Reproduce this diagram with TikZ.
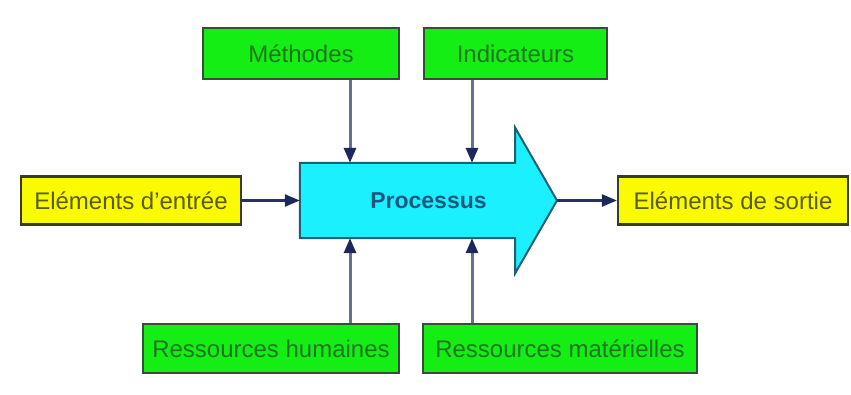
\documentclass[tikz,border=0pt]{standalone}
\usepackage{fontspec}
\setmainfont{Liberation Sans}
\usetikzlibrary{arrows.meta}

\definecolor{boxgreen}{RGB}{20,238,20}
\definecolor{boxgreenline}{RGB}{52,78,56}
\definecolor{textgreen}{RGB}{30,118,30}
\definecolor{boxyellow}{RGB}{250,250,0}
\definecolor{boxyellowline}{RGB}{58,58,40}
\definecolor{textolive}{RGB}{92,92,16}
\definecolor{proccyan}{RGB}{26,240,255}
\definecolor{proccyanline}{RGB}{30,95,115}
\definecolor{proctext}{RGB}{28,88,128}
\definecolor{navytip}{RGB}{28,40,92}
\definecolor{vline}{RGB}{104,112,146}
\definecolor{hline}{RGB}{40,50,92}

\tikzset{
  every node/.style={font=\fontsize{24}{28}\selectfont, inner sep=0pt},
  resbox/.style={draw=boxgreenline, fill=boxgreen, line width=2.2pt,
                 text=textgreen, minimum height=49pt},
  iobox/.style={draw=boxyellowline, fill=boxyellow, line width=2.2pt,
                text=textolive, minimum height=48pt},
  vconn/.style={draw=vline, line width=3pt,
                -{Triangle[length=15pt,width=12pt,color=navytip]}},
  hconn/.style={draw=hline, line width=2.4pt,
                -{Triangle[length=15pt,width=12pt,color=navytip]}},
}

\begin{document}
\begin{tikzpicture}[x=1pt,y=1pt]
  \fill[white] (0,0) rectangle (851,394);
  \useasboundingbox (0,0) rectangle (851,394);

  % columns where the control and resource arrows meet the process
  \coordinate (xa) at (350,0);
  \coordinate (xb) at (472,0);

  % process: body of the big arrow, its tip and head corners
  \node[minimum width=215pt, minimum height=75pt] (proc) at (407.5,193.5) {};
  \coordinate (tip) at (557,193.5);
  \fill[proccyan, draw=proccyanline, line width=2pt, line join=miter]
    (proc.south west) -- (proc.north west) -- (proc.north east)
    -- ([yshift=35pt]proc.north east) -- (tip)
    -- ([yshift=-35pt]proc.south east) -- (proc.south east) -- cycle;
  \node[text=proctext, font=\fontsize{23}{27}\selectfont\bfseries] (proclabel)
    at ([xshift=21pt]proc.center) {Processus};

  % boxes
  \node[resbox, minimum width=196pt, minimum height=51pt] (meth) at (301,340.5) {Méthodes};
  \node[resbox, minimum width=183pt, minimum height=51pt] (ind) at (515.5,340.5) {Indicateurs};
  \node[resbox, minimum width=256pt] (hum) at (271,45.5) {Ressources humaines};
  \node[resbox, minimum width=274pt] (mat) at (560,45.5) {Ressources matérielles};
  \node[iobox, minimum width=220pt] (in) at (131,193.5) {Eléments d’entrée};
  \node[iobox, minimum width=230pt] (out) at (733,193.5) {Eléments de sortie};

  % connectors
  \draw[vconn] (meth.south -| xa) -- (proc.north -| xa);
  \draw[vconn] (ind.south -| xb) -- (proc.north -| xb);
  \draw[vconn] (hum.north -| xa) -- (proc.south -| xa);
  \draw[vconn] (mat.north -| xb) -- (proc.south -| xb);
  \draw[hconn] (in.east) -- (proc.west);
  \draw[hconn] (tip) -- (out.west);
\end{tikzpicture}
\end{document}
